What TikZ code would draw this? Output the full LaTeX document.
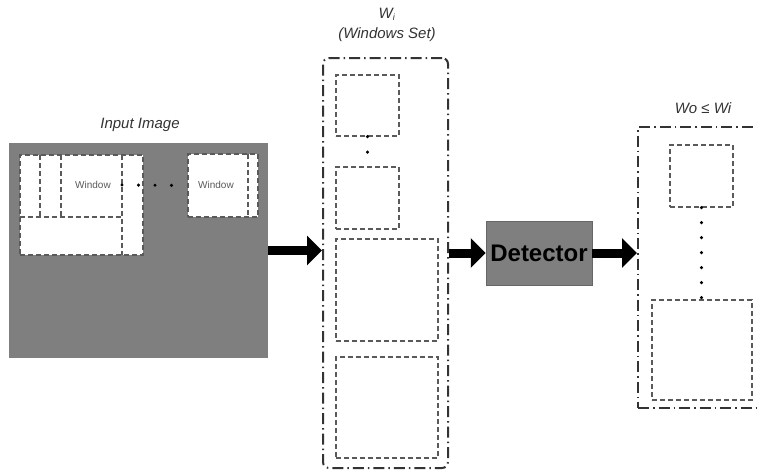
\documentclass[tikz,border=0pt]{standalone}
\usepackage{fontspec}
\setmainfont{Liberation Sans}
\usetikzlibrary{arrows.meta}
\definecolor{imggray}{HTML}{7F7F7F}
\definecolor{dashgray}{HTML}{5A5A5A}
\definecolor{framegray}{HTML}{333333}
\tikzset{
  winbox/.style={draw=dashgray, line width=1.2pt, dash pattern=on 5pt off 3pt, fill=white, inner sep=0pt},
  setframe/.style={draw=framegray, line width=2pt, dash pattern=on 11pt off 4pt on 1.5pt off 4pt, inner sep=0pt},
  dotline/.style={draw=black, line width=3.4pt, line cap=round, dash pattern=on 0pt off 15pt},
  bigarrow/.style={draw=black, line width=9pt, -{Triangle[length=15pt,width=29pt]}},
  ttl/.style={font=\fontsize{15}{17}\selectfont\itshape, text=framegray, inner sep=0pt},
  winlabel/.style={font=\fontsize{10}{12}\selectfont, text=dashgray, inner sep=0pt}
}
\begin{document}
\begin{tikzpicture}[x=1pt,y=-1pt]
\clip (0,0) rectangle (757,472);
\fill[white] (0,0) rectangle (757,472);
% input image
\node[fill=imggray, minimum width=259pt, minimum height=215pt, inner sep=0pt] (in1) at (138.5,250.5) {};
\node[ttl] (tin) at (140,125) {Input Image};
\node[winbox, minimum width=123pt, minimum height=100pt] (win1) at (81.5,205) {};
\draw[draw=dashgray, line width=1.2pt, dash pattern=on 5pt off 3pt] (40,155) -- (40,217) (61,155) -- (61,217) (122,155) -- (122,255) (20,217) -- (122,217);
\node[winlabel] (l1) at (93,185) {Window};
\node[winbox, minimum width=70pt, minimum height=63pt] (win2) at (223,185.5) {};
\draw[draw=dashgray, line width=1.2pt, dash pattern=on 5pt off 3pt] (248,154) -- (248,217);
\node[winlabel] (l2) at (216,185) {Window};
\coordinate (d1) at (122,185);
\draw[dotline, dash pattern=on 0pt off 16.5pt] (d1) -- (win2.west);
% windows set
\node[setframe, rounded corners=6pt, minimum width=125pt, minimum height=410pt] (setW) at (385.5,263) {};
\node[ttl] (tw) at (387,14) {W\textsubscript{\fontsize{9}{10}\selectfont i}};
\node[ttl] (tws) at (387,35) {(Windows Set)};
\node[winbox, minimum width=63pt, minimum height=61pt] (b1) at (367.5,105.5) {};
\node[winbox, minimum width=63pt, minimum height=62pt] (b2) at (367.5,198) {};
\node[winbox, minimum width=102pt, minimum height=102pt] (b3) at (387,290) {};
\node[winbox, minimum width=102pt, minimum height=101pt] (b4) at (387,407.5) {};
\draw[dotline, dash pattern=on 0pt off 15.5pt] (b1.south) -- (b2.north);
% detector
\node[fill=imggray, draw=imggray!80!black, line width=0.5pt, minimum width=106pt, minimum height=64pt, inner sep=0pt, font=\fontsize{24}{26}\selectfont\bfseries] (det) at (539,253) {Detector};
% output set
\node[setframe, minimum width=132pt, minimum height=281pt] (outW) at (704,267.5) {};
\node[ttl] (to) at (703,108) {Wo ≤ Wi};
\node[winbox, minimum width=63pt, minimum height=62pt] (c1) at (701.5,176) {};
\node[winbox, minimum width=100pt, minimum height=100pt] (c2) at (702,350) {};
\draw[dotline, dash pattern=on 0pt off 15pt] (c1.south) -- (c1.south |- c2.north);
% arrows
\draw[bigarrow] (in1.east) -- (in1.east -| setW.west);
\draw[bigarrow] (setW.east |- det.west) -- (det.west);
\draw[bigarrow] (det.east) -- (det.east -| outW.west);
\end{tikzpicture}
\end{document}
